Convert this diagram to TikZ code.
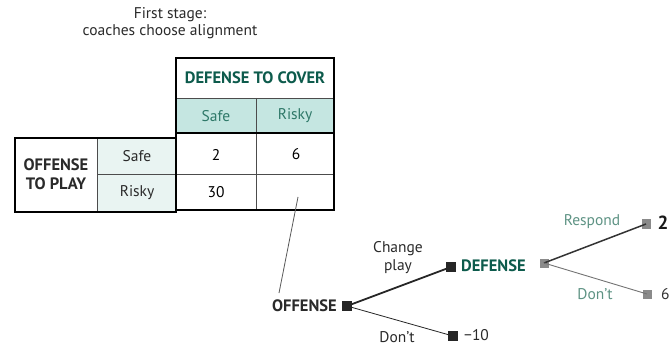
\documentclass[tikz,border=0pt]{standalone}
\usepackage{fontspec}
\setmainfont{PT Sans}
\definecolor{dgreen}{HTML}{0D5B4C}
\definecolor{tealfill}{HTML}{C5E6E1}
\definecolor{tealtext}{HTML}{2E7868}
\definecolor{palefill}{HTML}{E9F4F2}
\definecolor{inkgray}{HTML}{2A2A2A}
\definecolor{fadegray}{HTML}{8A8A8A}
\definecolor{fadegreen}{HTML}{5E9384}
\tikzset{
  frame/.style={line width=2pt, draw=black},
  thin/.style={line width=0.8pt, draw=black!70},
  cell/.style={font=\fontsize{15.5}{17}\selectfont, text=inkgray},
  hdr/.style={font=\bfseries\fontsize{16.5}{18}\selectfont, text=dgreen},
  sq/.style={draw=none, fill=black!85, minimum size=10pt, inner sep=0pt},
  sqfade/.style={draw=none, fill=fadegray, minimum size=9pt, inner sep=0pt},
  lbl/.style={font=\fontsize{15.5}{16}\selectfont, text=inkgray, inner sep=1pt},
  player/.style={font=\bfseries\fontsize{16.5}{17}\selectfont, inner sep=1pt},
}
\begin{document}
\begin{tikzpicture}[x=1pt,y=-1pt]
\useasboundingbox (0,0) rectangle (671,347);
\fill[white] (0,0) rectangle (671,347);

% title, two lines
\node[lbl] (title1) at (170,15) {First stage:};
\node[lbl] (title2) at (170,32) {coaches choose alignment};

% payoff table
\fill[tealfill] (176,98) rectangle (334,133);
\fill[palefill] (97,138) rectangle (176,212);
\draw[thin] (176,98) -- (334,98);
\draw[thin] (256,98) -- (256,210);
\draw[thin] (97,174) -- (334,174);
\draw[thin] (97,138) -- (97,212);
\draw[frame] (176,133) -- (334,133);
\draw[frame] (176,58) rectangle (334,210);
\draw[frame] (15,138) rectangle (176,212);

\node[hdr] (defcover) at (255,78) {DEFENSE TO COVER};
\node[cell, text=tealtext] (dsafe) at (216,116) {Safe};
\node[cell, text=tealtext] (drisky) at (295,116) {Risky};
\node[cell] (osafe) at (137,156) {Safe};
\node[cell] (orisky) at (137,193) {Risky};
\node[player, text=inkgray] (offplay1) at (56,165) {OFFENSE};
\node[player, text=inkgray] (offplay2) at (56,184) {TO PLAY};
\node[cell, text=black] (p11) at (216,155) {2};
\node[cell, text=black] (p12) at (296,154) {6};
\node[cell, text=black] (p21) at (216,192) {30};

% second stage tree
\coordinate (cellpt) at (298,197);
\coordinate (offtop) at (279,293);
\draw[line width=0.8pt, draw=black!65] (cellpt) -- (offtop);

\node[sq] (sqOff) at (347,306) {};
\node[player, anchor=east, text=inkgray] (offense) at (338,306) {OFFENSE};
\node[sq] (sqDef) at (451,267) {};
\node[player, anchor=west, text=dgreen] (defense) at (460,266) {DEFENSE};
\node[sq] (sqDont) at (453,336) {};
\node[lbl, anchor=west] (pm10) at (463,335) {−10};
\node[lbl] (change1) at (398,249) {Change};
\node[lbl] (change2) at (398,267) {play};
\node[lbl] (dont) at (397,337) {Don’t};

\draw[line width=1.8pt, draw=black!85] (sqOff.center) -- (sqDef.center);
\draw[line width=0.8pt, draw=black!85] (sqOff.center) -- (sqDont.center);

\node[sqfade] (sqDef2) at (544,263) {};
\node[sqfade] (sqResp) at (646,224) {};
\node[sqfade] (sqDont2) at (647,294) {};
\draw[line width=1.5pt, draw=black!80] (sqDef2.center) -- (sqResp.center);
\draw[line width=0.9pt, draw=black!55] (sqDef2.center) -- (sqDont2.center);
\node[lbl, text=fadegreen] (respond) at (592,222) {Respond};
\node[lbl, text=fadegreen] (dont2) at (595,294) {Don’t};
\node[font=\bfseries\fontsize{19}{20}\selectfont, anchor=west, text=black!90] (pay2) at (654,223) {2};
\node[lbl, anchor=west, text=black!80] (pay6) at (660,294) {6};
\end{tikzpicture}
\end{document}
